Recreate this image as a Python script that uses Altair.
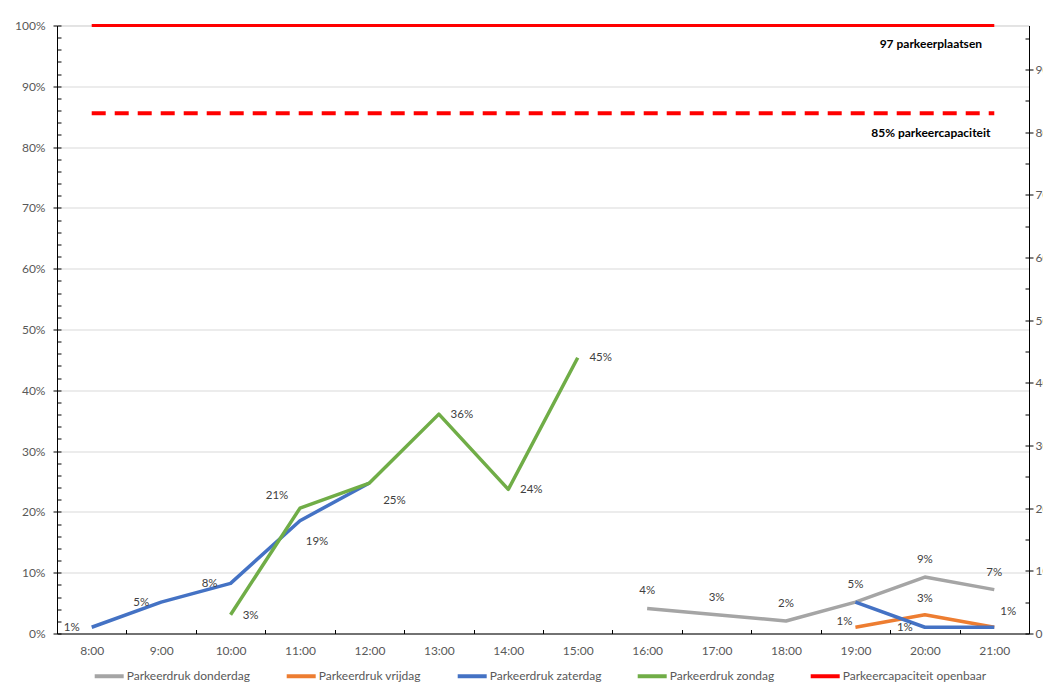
import altair as alt
import pandas as pd

# ---------------- data ----------------
hours = ["8:00", "9:00", "10:00", "11:00", "12:00", "13:00", "14:00",
         "15:00", "16:00", "17:00", "18:00", "19:00", "20:00", "21:00"]
capacity = 97          # parkeerplaatsen
norm_spaces = 83       # 85% parkeercapaciteit (in spaces)

series_names = ["Parkeerdruk donderdag", "Parkeerdruk vrijdag",
                "Parkeerdruk zaterdag", "Parkeerdruk zondag",
                "Parkeercapaciteit openbaar"]
series_colors = ["#A5A5A5", "#ED7D31", "#4472C4", "#70AD47", "#FF0000"]

# occupied spaces per hour (None = not counted)
donderdag = [None, None, None, None, None, None, None, None, 4, 3, 2, 5, 9, 7]
vrijdag = [None, None, None, None, None, None, None, None, None, None, None, 1, 3, 1]
zaterdag = [1, 5, 8, 18, 24, None, None, None, None, None, None, 5, 1, 1]
zondag = [None, None, 3, 20, 24, 35, 23, 44, None, None, None, None, None, None]
openbaar = [97] * 14

annotations = ["97 parkeerplaatsen", "85% parkeercapaciteit"]

# label placement (pixel offsets from the point), style only
label_offsets = {
    ("Parkeerdruk zaterdag", "8:00"): (-20, 1),
    ("Parkeerdruk zaterdag", "9:00"): (-20, 1),
    ("Parkeerdruk zaterdag", "10:00"): (-21, 1),
    ("Parkeerdruk zaterdag", "11:00"): (17, 21),
    ("Parkeerdruk zaterdag", "20:00"): (-20, 1),
    ("Parkeerdruk zondag", "10:00"): (20, 1),
    ("Parkeerdruk zondag", "11:00"): (-23, -12),
    ("Parkeerdruk zondag", "12:00"): (25, 18),
    ("Parkeerdruk zondag", "13:00"): (23, 1),
    ("Parkeerdruk zondag", "14:00"): (23, 1),
    ("Parkeerdruk zondag", "15:00"): (23, 0),
    ("Parkeerdruk donderdag", "16:00"): (0, -17),
    ("Parkeerdruk donderdag", "17:00"): (0, -17),
    ("Parkeerdruk donderdag", "18:00"): (0, -17),
    ("Parkeerdruk donderdag", "19:00"): (0, -17),
    ("Parkeerdruk donderdag", "20:00"): (0, -17),
    ("Parkeerdruk donderdag", "21:00"): (0, -17),
    ("Parkeerdruk vrijdag", "19:00"): (-11, -5),
    ("Parkeerdruk vrijdag", "20:00"): (0, -16),
    ("Parkeerdruk vrijdag", "21:00"): (14, -15),
}

# ---------------- tables ----------------
rows = []
for name, counts in zip(series_names[:4], [donderdag, vrijdag, zaterdag, zondag]):
    seg, prev = 0, False
    for h, c in zip(hours, counts):
        if c is None:
            prev = False
            continue
        if not prev:
            seg += 1
        prev = True
        rows.append(dict(series=name, hour=h, pct=c / capacity, seg=f"{name}-{seg}"))
df_lines = pd.DataFrame(rows)

df_cap = pd.DataFrame(dict(series=series_names[4], hour=hours,
                           pct=[c / capacity for c in openbaar]))
df_norm = pd.DataFrame(dict(hour=hours, pct=[norm_spaces / capacity] * len(hours)))

lab_rows = []
for r in rows:
    key = (r["series"], r["hour"])
    if key in label_offsets:
        dx, dy = label_offsets[key]
        lab_rows.append(dict(hour=r["hour"], pct=r["pct"],
                             text=f"{round(r['pct'] * 100)}%", dx=dx, dy=dy))
df_labels = pd.DataFrame(lab_rows)

df_annot = pd.DataFrame(dict(hour=["20:00", "20:00"],
                             pct=[capacity / capacity, norm_spaces / capacity],
                             text=annotations, dy=[18, 19.5]))
df_axis = pd.DataFrame(dict(hour=[hours[0], hours[-1]], pct=[0, 1], cnt=[0, capacity]))

# ---------------- scales / axes ----------------
W, H = 972, 608
step = W / len(hours)
FONT = "Lato"
LABEL_GREY = "#595959"

xscale = alt.Scale(type="point", domain=hours, padding=0.5)
yscale = alt.Scale(domain=[0, 1], nice=False, zero=True)
rscale = alt.Scale(domain=[0, capacity], nice=False, zero=True)


def X(axis=None):
    return alt.X("hour:N", sort=hours, scale=xscale, axis=axis, title=None)


def Y(axis=None):
    return alt.Y("pct:Q", scale=yscale, axis=axis, title=None)


x_main_axis = alt.Axis(orient="bottom", labelAngle=0, ticks=False, tickSize=0,
                       labelPadding=12, domain=True, domainColor="#000000",
                       labelColor=LABEL_GREY, labelFontSize=12, grid=False)
x_tick_axis = alt.Axis(orient="top", offset=-H, labels=False, domain=False,
                       ticks=True, tickSize=4, tickColor="#000000",
                       tickOffset=-step / 2, grid=False)
y_main_axis = alt.Axis(orient="left", values=[i / 10 for i in range(11)],
                       format=".0%", tickSize=4, tickColor="#000000",
                       domainColor="#000000", labelPadding=8,
                       labelColor=LABEL_GREY, labelFontSize=12,
                       grid=True, gridColor="#D9D9D9")
y_minor_axis = alt.Axis(orient="right", offset=-W, values=[i / 50 for i in range(51)],
                        labels=False, domain=False, tickSize=4,
                        tickColor="#000000", grid=False)
r_main_axis = alt.Axis(orient="right", values=list(range(0, 91, 10)), tickSize=4,
                       tickColor="#000000", domainColor="#000000", labelPadding=2,
                       labelColor=LABEL_GREY, labelFontSize=12, grid=False)
r_minor_axis = alt.Axis(orient="left", offset=-W, values=list(range(0, 96, 5)),
                        labels=False, domain=False, tickSize=4,
                        tickColor="#000000", grid=False)

legend = alt.Legend(orient="none", legendX=35.7, legendY=634, direction="horizontal",
                    title=None, symbolType="stroke", symbolStrokeWidth=4,
                    symbolSize=841, labelFontSize=12, labelColor=LABEL_GREY,
                    labelFont=FONT, columnPadding=28, labelOffset=1, padding=0,
                    labelLimit=300)
color = alt.Color("series:N", scale=alt.Scale(domain=series_names, range=series_colors),
                  legend=legend)

# ---------------- layers ----------------
lines = alt.Chart(df_lines).mark_line(strokeWidth=3.5, strokeJoin="round").encode(
    x=X(x_main_axis), y=Y(y_main_axis), color=color, detail="seg:N")

cap_line = alt.Chart(df_cap).mark_line(strokeWidth=3).encode(
    x=X(), y=Y(), color=color)

norm_line = alt.Chart(df_norm).mark_line(
    color="#FF0000", strokeWidth=4, strokeDash=[14, 9]).encode(x=X(), y=Y())

label_layers = []
for (dx, dy), grp in df_labels.groupby(["dx", "dy"]):
    label_layers.append(
        alt.Chart(grp).mark_text(dx=float(dx), dy=float(dy), fontSize=11.5,
                                 color="#404040", font=FONT, baseline="middle",
                                 align="center").encode(x=X(), y=Y(), text="text:N"))

annot_layers = []
for dy, grp in df_annot.groupby("dy"):
    annot_layers.append(
        alt.Chart(grp).mark_text(dx=6, dy=float(dy), fontSize=12, fontWeight="bold",
                                 color="#000000", font=FONT, baseline="middle",
                                 align="center").encode(x=X(), y=Y(), text="text:N"))

tick_layer = alt.Chart(df_axis).mark_point(opacity=0).encode(
    x=X(x_tick_axis), y=Y(y_minor_axis))
right_layer = alt.Chart(df_axis).mark_point(opacity=0).encode(
    x=X(), y=alt.Y("cnt:Q", scale=rscale, axis=r_main_axis, title=None))
right_minor = alt.Chart(df_axis).mark_point(opacity=0).encode(
    x=X(), y=alt.Y("cnt:Q", scale=rscale, axis=r_minor_axis, title=None))

chart = alt.layer(
    lines, cap_line, norm_line, *label_layers, *annot_layers,
    tick_layer, right_layer, right_minor
).resolve_scale(
    y="independent"
).resolve_axis(
    x="independent", y="independent"
).properties(
    width=W, height=H,
    padding={"left": 49, "top": 17.5, "right": 14, "bottom": 49},
    autosize=alt.AutoSizeParams(type="none"),
).configure_view(
    stroke=None
).configure_axis(
    labelFont=FONT
).configure(
    font=FONT
)

chart.save("out.html", embed_options={"renderer": "svg", "actions": False})
